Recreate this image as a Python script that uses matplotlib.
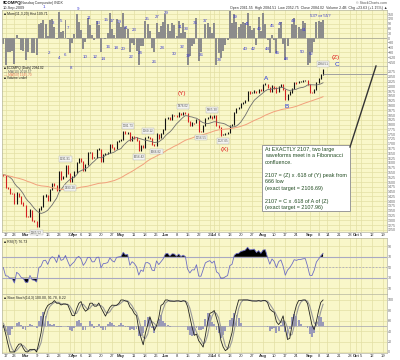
import numpy as np
import pandas as pd
import matplotlib
matplotlib.use('Agg')
import matplotlib.pyplot as plt
from matplotlib.patches import Rectangle
from matplotlib.lines import Line2D

plt.rcParams['font.family'] = ['Liberation Sans', 'DejaVu Sans']

# Nasdaq Composite closes before the visible window (indicator warm-up), Jan-Feb 2009
warmup_closes = [
    1632.21, 1628.03, 1652.38, 1599.06, 1617.01, 1571.59, 1538.79, 1546.46, 1489.64, 1511.84,
    1529.33, 1440.86, 1507.07, 1465.49, 1477.29, 1489.46, 1504.90, 1558.34, 1507.84, 1476.42,
    1494.43, 1516.30, 1515.05, 1546.24, 1591.71, 1591.56, 1524.73, 1530.50, 1541.71,
]
# visible window, 13-Feb-2009 .. 10-Sep-2009
closes = [
    1534.36, 1470.66, 1467.97, 1442.82, 1441.23, 1387.72, 1441.83, 1425.43, 1391.47, 1377.84,
    1322.85, 1321.01, 1353.74, 1299.59, 1293.85, 1268.64, 1358.28, 1371.64, 1426.10, 1431.50,
    1404.02, 1462.11, 1491.22, 1483.48, 1457.27, 1555.77, 1516.52, 1528.95, 1587.00, 1545.20,
    1501.80, 1528.59,
    1551.60, 1602.63, 1621.87, 1606.71, 1561.61, 1590.66, 1652.54, 1653.31, 1625.72, 1626.80,
    1670.44, 1673.07, 1608.21, 1643.85, 1646.12, 1652.21, 1694.29, 1679.67, 1673.81, 1711.68,
    1717.30,
    1719.20, 1763.56, 1754.12, 1759.10, 1716.24, 1739.00, 1731.24, 1715.92, 1664.19, 1689.21,
    1680.14, 1732.36, 1734.54, 1727.84, 1695.25, 1692.01, 1750.43, 1731.08, 1751.79, 1774.33,
    1828.68, 1836.80, 1825.92, 1850.02, 1849.42, 1842.40, 1860.13, 1853.08, 1862.37, 1858.80,
    1816.38, 1796.18, 1808.06, 1807.72, 1827.47, 1766.19, 1764.92, 1792.34, 1829.54, 1838.22,
    1844.06, 1835.04,
    1845.72, 1796.52, 1787.40, 1746.17, 1747.17, 1752.55, 1756.03, 1793.21, 1799.73, 1862.90,
    1885.03, 1886.61, 1909.29, 1916.20, 1926.38, 1973.60, 1965.96, 1967.89, 1975.51, 1967.76,
    1984.30, 1978.50,
    2008.61, 2011.31, 1993.05, 1973.16, 2000.25, 1992.24, 1969.73, 1998.72, 2009.35, 1985.52,
    1930.84, 1955.92, 1969.24, 1989.22, 2020.90, 2017.98, 2024.23, 2024.43, 2027.73, 2028.77,
    2009.06,
    1968.89, 1967.07, 1983.20, 2018.78, 2037.77, 2060.39, 2084.02,
]
holidays = ['2009-02-16', '2009-04-10', '2009-05-25', '2009-07-03', '2009-09-07']

# hi/lo price flags: date, text, side
price_flags = [
    ('2009-03-09', '1265.52', 'below'), ('2009-03-26', '1591.91', 'above'),
    ('2009-03-30', '1490.28', 'below'), ('2009-05-06', '1781.73', 'above'),
    ('2009-05-13', '1656.42', 'below'), ('2009-05-19', '1760.12', 'above'),
    ('2009-05-26', '1666.82', 'below'), ('2009-06-11', '1876.02', 'above'),
    ('2009-06-23', '1756.55', 'below'), ('2009-06-30', '1865.30', 'above'),
    ('2009-07-08', '1727.05', 'below'), ('2009-09-10', '2084.51', 'above'),
]

# swing counts on the top oscillator: text, x px, y px
swing_top = [('1', 44, 7.3), ('3', 53, 23), ('5', 61, 21), ('7', 68, 28), ('9', 78, 9),
             ('11', 89, 18), ('13', 98, 23), ('15', 106, 20), ('17', 112, 21), ('19', 119, 22),
             ('21', 126, 28), ('23', 134, 30), ('25', 147, 19), ('27', 157, 17), ('29', 166, 13),
             ('31', 180, 27), ('33', 186, 29), ('35', 195, 23), ('37', 205, 21), ('39', 235, 17),
             ('41', 247, 24), ('43', 259, 29), ('45', 272, 26), ('47', 280, 24), ('49', 293, 21),
             ('51', 304, 30), ('53? or 55?', 320, 16)]
swing_bot = [('2', 49, 53), ('4', 59, 58), ('6', 65, 55), ('8', 71, 68), ('10', 85, 57),
             ('12', 95, 57), ('14', 103, 59), ('16', 108, 47), ('18', 116, 48), ('20', 123, 49),
             ('22', 131, 57), ('24', 140, 53), ('26', 154, 62), ('28', 162, 48), ('30', 174, 54),
             ('32', 182, 47), ('34', 188, 56), ('36', 201, 55), ('38', 219, 60), ('40', 245, 49),
             ('42', 253, 49), ('44', 267, 49), ('46', 277, 53), ('48', 286, 59), ('50', 302, 52),
             ('52', 311, 54)]

waves = [('(Y)', 182, 93, '#e02020'), ('(X)', 225, 149, '#e02020'), ('A', 266, 79, '#2233dd'),
         ('B', 287, 106, '#2233dd'), ('(Z)', 336, 57, '#e02020'), ('C', 337, 64, '#2233dd')]

note_lines = [
    'At EXACTLY 2107, two large', 'waveforms meet in a Fibonnacci', 'confluence.', '',
    '2107 = (Z) x .618 of (Y) peak from', '666 low', '(exact target = 2106.69)', '',
    '2107 = C x .618 of A of (Z)', '(exact target = 2107.96)',
]

W, H = 400, 360
BG = '#f9f7c9'
GRID = '#e3dfa4'

days = pd.bdate_range('2009-02-13', '2009-10-23')
days = days[~days.isin(pd.to_datetime(holidays))]

full = pd.Series(warmup_closes + closes, dtype=float)
n0 = len(warmup_closes)


def rsi(s, n):
    d = s.diff()
    up = d.clip(lower=0).ewm(alpha=1 / n, adjust=False).mean()
    dn = (-d.clip(upper=0)).ewm(alpha=1 / n, adjust=False).mean()
    return 100 - 100 / (1 + up / dn)


def cci(s, n):
    m = s.rolling(n).mean()
    md = s.rolling(n).apply(lambda v: np.mean(np.abs(v - v.mean())), raw=True)
    return (s - m) / (0.015 * md)


def visible(s):
    return s.iloc[n0:].reset_index(drop=True)


c = visible(full)
x = np.arange(len(c))
opens = visible(full.shift(1))
ma10 = visible(full.rolling(10, min_periods=1).mean())
ma50 = visible(full.rolling(50, min_periods=1).mean())
osc = visible(cci(full, 5)).fillna(0)
rsi7 = visible(rsi(full, 7))
k_raw = (full - full.rolling(14).min()) / (full.rolling(14).max() - full.rolling(14).min()) * 100
stk = visible(k_raw.rolling(3).mean())
std = visible(k_raw.rolling(3).mean().rolling(3).mean())
shist = stk - std

# weekly / monthly ticks
ticks, tlabels, is_month = [], [], []
for i in range(1, len(days)):
    d, p = days[i], days[i - 1]
    if d.month != p.month:
        ticks.append(i); tlabels.append(d.strftime('%b')); is_month.append(True)
    elif d.weekday() < p.weekday():
        ticks.append(i); tlabels.append(str(d.day)); is_month.append(False)
keep = []
for k, t in enumerate(ticks):
    if not is_month[k] and any(is_month[j] and abs(ticks[j] - t) == 1 for j in range(len(ticks))):
        continue
    keep.append(k)
ticks = [ticks[k] for k in keep]
tlabels = [tlabels[k] for k in keep]
is_month = [is_month[k] for k in keep]

fig = plt.figure(figsize=(W / 100, H / 100), dpi=100)
fig.patch.set_facecolor('white')


def panel(top, bottom, labels=False):
    ax = fig.add_axes([2 / W, 1 - bottom / H, 385 / W, (bottom - top) / H])
    ax.set_facecolor(BG)
    ax.set_xlim(-0.6, 172.8)
    ax.set_xticks(ticks)
    ax.grid(True, color=GRID, lw=0.5)
    ax.set_axisbelow(True)
    ax.yaxis.tick_right()
    ax.tick_params(axis='y', labelsize=2.6, colors='#666666', length=0, pad=0.8)
    ax.tick_params(axis='x', labelsize=3, colors='#333333', length=0, pad=0.8,
                   labelbottom=labels)
    if labels:
        ax.set_xticklabels(tlabels)
        for t, m in zip(ax.get_xticklabels(), is_month):
            if m:
                t.set_fontweight('bold')
    for s in ax.spines.values():
        s.set_color('#b5b5a0')
        s.set_linewidth(0.5)
    return ax


def ftext(px, py, s, **kw):
    kw.setdefault('va', 'center')
    return fig.text(px / W, 1 - py / H, s, **kw)


# top oscillator
ax1 = panel(10, 66)
ax1.bar(x, osc, width=0.9, color='#8c8c8c', lw=0)
ax1.axhline(0, color='#909090', lw=0.4)
ax1.set_ylim(-175, 175)
ax1.set_yticks(np.arange(-150, 151, 30))
ax1.text(0.005, 0.96, f'■ Mom(11,3,20) Hist {osc.iloc[-1]:.2f}', transform=ax1.transAxes,
         fontsize=2.5, va='top', color='#222222')

# price panel
ax2 = panel(66, 232, labels=True)
up = c >= opens
lo = np.minimum(opens, c)
hi = np.maximum(opens, c)
ax2.vlines(x[up], lo[up] - 2, hi[up] + 4, color='#111111', lw=0.8)
ax2.vlines(x[~up], lo[~up] - 4, hi[~up] + 2, color='#d42020', lw=0.8)
ax2.plot(x, ma10, color='#6d6d6d', lw=0.6)
ax2.plot(x, ma50, color='#f2a07c', lw=0.7)
ax2.hlines(c.iloc[-1] - 20, x[-1], 172.8, color='#a0a0a0', lw=0.7)
ax2.set_ylim(1239, 2106)
ax2.set_yticks(np.arange(1250, 2076, 25))
for ds, txt, side in price_flags:
    i = int(np.where(days == pd.Timestamp(ds))[0][0])
    yv = hi[i] + 4 if side == 'above' else lo[i] - 4
    ax2.annotate(txt, (i, yv), xytext=(0, 2.5 if side == 'above' else -2.5),
                 textcoords='offset points', ha='center',
                 va='bottom' if side == 'above' else 'top', fontsize=2.2, color='#555555',
                 bbox=dict(boxstyle='square,pad=0.25', fc='#f4f4f0', ec='#b0b0b0', lw=0.3))
legend_rows = [(f'■ $COMPQ (Daily) {c.iloc[-1]:.2f}', '#111111'),
               (f'— MA(10) {ma10.iloc[-1]:.2f}', '#555555'),
               (f'— MA(50) {ma50.iloc[-1]:.2f}', '#e07050'),
               ('■ Volume undef', '#111111')]
for k, (txt, col) in enumerate(legend_rows):
    ftext(4, 68.5 + k * 3.3, txt, fontsize=2.3, color=col)

# RSI panel
ax3 = panel(238, 294)
ax3.set_ylim(-1, 106)
ax3.set_yticks([10, 30, 50, 70, 90])
ax3.fill_between(x, 70, rsi7, where=rsi7 > 70, color='black', lw=0, interpolate=True)
ax3.fill_between(x, 30, rsi7, where=rsi7 < 30, color='black', lw=0, interpolate=True)
ax3.axhline(70, color='#a9a9c2', lw=0.8)
ax3.axhline(30, color='#a9a9c2', lw=0.8)
ax3.axhline(50, color='#a9a9c2', lw=0.6, ls=(0, (2, 2)))
ax3.plot(x, rsi7, color='#6e6ec4', lw=0.6)
ax3.text(0.005, 0.97, f'■ RSI(7) {rsi7.iloc[-1]:.2f}', transform=ax3.transAxes,
         fontsize=2.5, va='top', color='#222222')

# stochastic panel
ax4 = panel(294, 353, labels=True)
ax4.set_ylim(-2, 111.5)
ax4.set_yticks([0, 20, 40, 60, 80, 100])
ax4.bar(x, shist, bottom=50, width=0.85, color='#9a9ab8', lw=0)
ax4.axhline(50, color='#a0a0b0', lw=0.5)
ax4.plot(x, std, color='#9a9a9a', lw=0.8)
ax4.plot(x, stk, color='#222222', lw=0.6)
ax4.text(0.005, 0.97, f'■ Slow Stoch(14,3) {stk.iloc[-1]:.2f}, {std.iloc[-1]:.2f}, '
         f'{shist.iloc[-1]:.2f}', transform=ax4.transAxes, fontsize=2.5, va='top',
         color='#222222')

# header
ftext(3, 3, '$COMPQ', fontsize=3.2, fontweight='bold', color='#111111')
ftext(20, 3, '(Nasdaq Composite) INDX', fontsize=2.6, color='#333333')
ftext(3, 8.3, '10-Sep-2009', fontsize=2.8, color='#333333')
ftext(387, 3, '© StockCharts.com', fontsize=2.6, color='#555555', ha='right')
ftext(387, 8.3, 'Open 2061.55  High 2084.51  Low 2052.75  Close 2084.02  '
      'Volume 2.4B  Chg +23.63 (+1.15%) ▲', fontsize=2.6, color='#333333', ha='right')

# swing counts and wave labels
for txt, px, py in swing_top + swing_bot:
    ftext(px, py, txt, fontsize=3.2, color='#3b3bd0', ha='center')
for txt, px, py, col in waves:
    ftext(px, py, txt, fontsize=4.6, color=col, ha='center')

# note box with pointer
fig.add_artist(Line2D([350 / W, 376 / W], [1 - 147 / H, 1 - 66 / H], color='#333333', lw=1.0))
fig.add_artist(Rectangle((262 / W, 1 - 211 / H), 88 / W, 66 / H, transform=fig.transFigure,
                         fc='white', ec='#9a9a9a', lw=0.7))
for k, line in enumerate(note_lines):
    if line:
        ftext(265, 149.3 + 6.5 * k, line, fontsize=3.9, color='#1f4a1f')

fig.savefig('out.png', dpi=100, facecolor='white')
